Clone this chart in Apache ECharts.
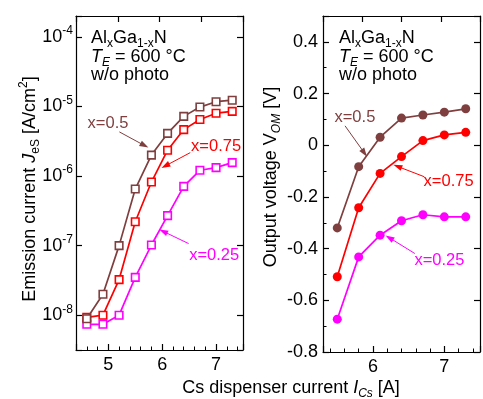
<!DOCTYPE html>
<html><head><meta charset="utf-8">
<script src="https://cdn.jsdelivr.net/npm/echarts@6/dist/echarts.min.js"></script>
<style>html,body{margin:0;padding:0;background:#fff}#c{width:483px;height:399px}</style>
</head><body><div id="c"></div>
<script>
// ---- data ----
const seriesNames = ['x=0.25', 'x=0.75', 'x=0.5'];
const xLeft = [4.6, 4.9, 5.2, 5.5, 5.8, 6.1, 6.4, 6.7, 7.0, 7.3];
const jX025 = [7.4e-9, 7.4e-9, 1.0e-8, 3.5e-8, 1.02e-7, 2.7e-7, 7.1e-7, 1.21e-6, 1.32e-6, 1.56e-6];
const jX075 = [9.3e-9, 1.0e-8, 3.25e-8, 2.2e-7, 8.2e-7, 2.35e-6, 4.65e-6, 6.5e-6, 8.0e-6, 8.5e-6];
const jX05  = [8.9e-9, 2.0e-8, 1.0e-7, 6.5e-7, 2.0e-6, 4.1e-6, 7.2e-6, 9.8e-6, 1.17e-5, 1.23e-5];
const xRight = [5.5, 5.8, 6.1, 6.4, 6.7, 7.0, 7.3];
const vX025 = [-0.673, -0.432, -0.348, -0.292, -0.269, -0.277, -0.277];
const vX075 = [-0.509, -0.242, -0.109, -0.044, 0.018, 0.040, 0.050];
const vX05  = [-0.320, -0.083, 0.031, 0.105, 0.117, 0.128, 0.141];
// annotation anchors (data space): label position, arrow start, arrow end
const annLeftLabel = [[6.965, 7.28e-8], [7.0, 2.70e-6], [4.994, 5.66e-6]];
const annLeftFrom  = [[6.49, 1.07e-7], [6.521, 2.17e-6], [5.205, 4.31e-6]];
const annLeftTo    = [[6.02, 1.60e-7], [6.06, 1.40e-6], [5.67, 2.75e-6]];
const annRightLabel = [[6.931, -0.445], [7.06, -0.141], [5.747, 0.1085]];
const annRightFrom  = [[6.587, -0.419], [6.72, -0.122], [5.609, 0.075]];
const annRightTo    = [[6.23, -0.358], [6.345, -0.082], [5.88, -0.03]];
// ---- style ----
const colors = ['#ff00ff', '#ff0000', '#7f3f3f'];
const FF = '"Liberation Sans", Arial, sans-serif';
const zip = (a, b) => a.map((v, i) => [v, b[i]]);
const leftData = [jX025, jX075, jX05];
const rightData = [vX025, vX075, vX05];

const axisLine = {show: true, onZero: false, lineStyle: {color: '#000', width: 1.2}};
const tickIn = {show: true, inside: true, length: 6, lineStyle: {color: '#000', width: 1.2}};
const minorIn = (n) => ({show: true, splitNumber: n, length: 3.5, lineStyle: {color: '#000', width: 1}});
const lblStyle = {color: '#000', fontSize: 18, fontFamily: FF};

function annot(i, lbl, from, to) {
  return {
    markPoint: {
      silent: true, animation: false, symbol: 'circle', symbolSize: 0,
      label: {show: true, position: 'inside', formatter: seriesNames[i], color: colors[i], fontSize: 16.5, fontFamily: FF},
      data: [{coord: lbl[i]}]
    },
    markLine: {
      silent: true, animation: false, symbol: ['none', 'triangle'], symbolSize: [6, 9],
      label: {show: false}, lineStyle: {color: colors[i], width: 1, type: 'solid'},
      data: [[{coord: from[i]}, {coord: to[i]}]]
    }
  };
}

const series = [];
for (let i = 0; i < 3; i++) {
  series.push(Object.assign({
    type: 'line', xAxisIndex: 0, yAxisIndex: 0, data: zip(xLeft, leftData[i]),
    symbol: 'rect', symbolSize: 7.5, showAllSymbol: true, animation: false,
    lineStyle: {color: colors[i], width: 1.7},
    itemStyle: {color: '#fff', borderColor: colors[i], borderWidth: 1.6}, z: 3 + i
  }, annot(i, annLeftLabel, annLeftFrom, annLeftTo)));
}
for (let i = 0; i < 3; i++) {
  series.push(Object.assign({
    type: 'line', xAxisIndex: 2, yAxisIndex: 2, data: zip(xRight, rightData[i]),
    symbol: 'circle', symbolSize: 9, showAllSymbol: true, animation: false,
    lineStyle: {color: colors[i], width: 1.7},
    itemStyle: {color: colors[i]}, z: 3 + i
  }, annot(i, annRightLabel, annRightFrom, annRightTo)));
}

const intLabel = v => (Math.abs(v - Math.round(v)) < 1e-6 ? String(Math.round(v)) : '');
const logLabel = v => {
  const e = Math.log10(v), r = Math.round(e);
  if (Math.abs(e - r) > 1e-6) return '';
  return '{b|10}{p|' + r + '}';
};
const voltLabel = v => (v > 0.45 ? '' : String(+v.toFixed(1)));

const option = {
  backgroundColor: '#fff',
  animation: false,
  grid: [
    {left: 76, top: 16, width: 167, height: 334},
    {left: 323, top: 16, width: 166, height: 336}
  ],
  xAxis: [
    {gridIndex: 0, type: 'value', min: 4.4, max: 7.5, splitNumber: 3, axisLine, axisTick: tickIn, minorTick: minorIn(5),
     splitLine: {show: false}, axisLabel: Object.assign({formatter: intLabel, margin: 6}, lblStyle)},
    {gridIndex: 0, type: 'value', position: 'top', min: 0, max: 4, interval: 1, axisLine, axisTick: tickIn,
     splitLine: {show: false}, axisLabel: {show: false}},
    {gridIndex: 1, type: 'value', min: 5.3, max: 7.5, splitNumber: 2, axisLine, axisTick: tickIn, minorTick: minorIn(5),
     splitLine: {show: false}, axisLabel: Object.assign({formatter: intLabel, margin: 6}, lblStyle)},
    {gridIndex: 1, type: 'value', position: 'top', min: 0, max: 4, interval: 1, axisLine, axisTick: tickIn,
     splitLine: {show: false}, axisLabel: {show: false}}
  ],
  yAxis: [
    {gridIndex: 0, type: 'log', logBase: 10, min: Math.pow(10, -8.5), max: Math.pow(10, -3.7), axisLine, axisTick: tickIn,
     splitLine: {show: false},
     axisLabel: {formatter: logLabel, margin: 3, color: '#000', fontFamily: FF,
       rich: {b: {fontSize: 18, lineHeight: 24, fontFamily: FF, color: '#000'},
              p: {fontSize: 12, lineHeight: 12, verticalAlign: 'top', fontFamily: FF, color: '#000'}}}},
    {gridIndex: 0, type: 'log', logBase: 10, position: 'right', min: Math.pow(10, -8.5), max: Math.pow(10, -3.7), axisLine, axisTick: tickIn,
     splitLine: {show: false}, axisLabel: {show: false}},
    {gridIndex: 1, type: 'value', min: -0.8, max: 0.5, interval: 0.2, axisLine, axisTick: tickIn, minorTick: minorIn(2),
     splitLine: {show: false}, axisLabel: Object.assign({formatter: voltLabel, margin: 5}, lblStyle)},
    {gridIndex: 1, type: 'value', position: 'right', min: -0.8, max: 0.5, interval: 0.2, axisLine, axisTick: tickIn,
     splitLine: {show: false}, axisLabel: {show: false}}
  ],
  series,
  graphic: []
};

const rich = {
  n: {fontSize: 18, lineHeight: 24, fontFamily: FF, fill: '#000'},
  i: {fontSize: 18, lineHeight: 24, fontFamily: FF, fontStyle: 'italic', fill: '#000'},
  s: {fontSize: 12, lineHeight: 12, fontFamily: FF, verticalAlign: 'bottom', fill: '#000'},
  si: {fontSize: 12, lineHeight: 12, fontFamily: FF, fontStyle: 'italic', verticalAlign: 'bottom', fill: '#000'},
  p: {fontSize: 12, lineHeight: 12, fontFamily: FF, verticalAlign: 'top', fill: '#000'}
};
function txt(x, y, text, rot, align) {
  return {type: 'text', x, y, rotation: rot || 0, silent: true, z: 100,
    style: {text, rich, fill: '#000', font: '18px ' + FF, textAlign: align || 'left', textVerticalAlign: 'middle',
            align: align || 'left', verticalAlign: 'middle'}};
}
const infoLines = ['{n|Al}{s|x}{n|Ga}{s|1-x}{n|N}', '{i|T}{si|E}{n| = 600 °C}', '{n|w/o photo}'];
const infoY = [38, 57, 75];
[91, 339].forEach(x0 => infoLines.forEach((t, k) => option.graphic.push(txt(x0, infoY[k], t))));
option.graphic.push(txt(30, 189, '{n|Emission current }{i|J}{s|eS}{n| [A/cm}{p|2}{n|]}', Math.PI / 2, 'center'));
option.graphic.push(txt(271, 177, '{n|Output voltage V}{si|OM}{n| [V]}', Math.PI / 2, 'center'));
option.graphic.push(txt(291, 388, '{n|Cs dispenser current }{i|I}{si|Cs}{n| [A]}', 0, 'center'));

const chart = echarts.init(document.getElementById('c'), null, {renderer: 'canvas'});
chart.setOption(option);
</script></body></html>
